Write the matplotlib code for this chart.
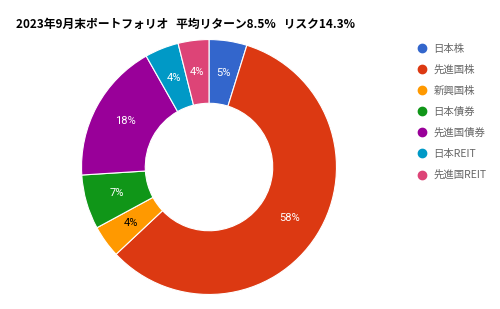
import matplotlib.pyplot as plt
from matplotlib.lines import Line2D

plt.rcParams['font.family'] = ['Noto Sans CJK JP', 'DejaVu Sans']

# portfolio share (%)
labels = ['日本株', '先進国株', '新興国株', '日本債券', '先進国債券', '日本REIT', '先進国REIT']
shares = [4.8, 58.2, 4.1, 6.9, 17.8, 4.3, 3.9]
colors = ['#3366cc', '#dc3912', '#ff9900', '#109618', '#990099', '#0099c6', '#dd4477']
label_colors = ['white', 'white', 'black', 'white', 'white', 'white', 'white']

fig = plt.figure(figsize=(5, 3.09), dpi=100)
fig.patch.set_facecolor('white')

# axes placed so the donut sits where the original one does
ax = fig.add_axes([0.163, 0.047, 0.51, 0.825])
wedges, texts, autotexts = ax.pie(
    shares, colors=colors, startangle=90, counterclock=False,
    radius=1.0, wedgeprops=dict(width=0.5, edgecolor='white', linewidth=0.8),
    autopct='%1.0f%%', pctdistance=0.75,
    textprops=dict(fontsize=8, family=['Roboto', 'DejaVu Sans']))
for t, c in zip(autotexts, label_colors):
    t.set_color(c)
ax.set_xlim(-1, 1)
ax.set_ylim(-1, 1)

fig.text(0.033, 0.92, '2023年9月末ポートフォリオ   平均リターン8.5%   リスク14.3%',
         fontsize=8.5, fontweight='bold', color='black', va='center')

# legend with round markers
handles = [Line2D([], [], marker='o', linestyle='none', markersize=6,
                  markerfacecolor=c, markeredgecolor=c) for c in colors]
leg = fig.legend(handles, labels, loc='upper left', bbox_to_anchor=(0.834, 0.859),
                 frameon=False, fontsize=7.5, handletextpad=0.6, labelspacing=1.05,
                 handlelength=1.0, borderaxespad=0, borderpad=0)
for t in leg.get_texts():
    t.set_color('#666666')

fig.savefig('out.png', dpi=100)
